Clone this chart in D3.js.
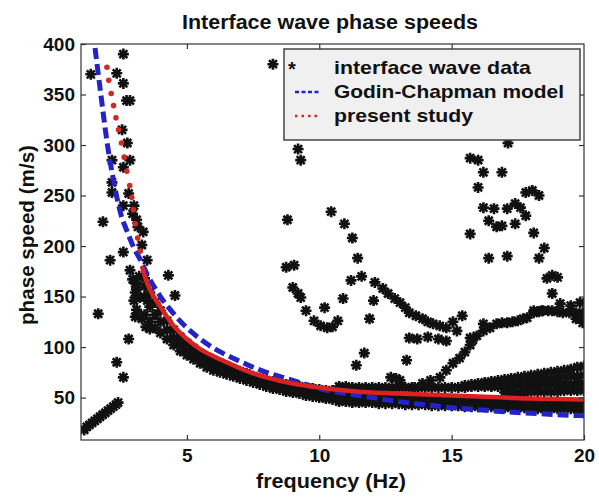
<!DOCTYPE html>
<html>
<head>
<meta charset="utf-8">
<script src="https://cdn.jsdelivr.net/npm/d3@7"></script>
<style>
  body { margin: 0; background: #fff; }
  text { font-family: "Liberation Sans", Arial, sans-serif; font-weight: bold; fill: #111; }
</style>
</head>
<body>
<svg id="chart"></svg>
<script>
var freqTicks = [5, 10, 15, 20];
var speedTicks = [50, 100, 150, 200, 250, 300, 350, 400];

// model curves
var godinChapman = [[1.53,396],[1.75,350],[2,300],[2.25,262],[2.5,232],[2.75,214],[3,198],[3.25,186],[3.5,172],
  [4,150],[4.5,133],[5,119],[5.5,108],[6,99],[6.5,92],[7,86],[7.5,80],[8,75],[8.5,71],[9,67],[9.5,63],
  [10,59],[11,54],[12,50],[13,46],[14,43],[15,40],[16,38],[17,36],[18,34.5],[19,33],[20,32]];
var presentDots = [[1.98,377],[2.05,364],[2.14,351],[2.23,339],[2.32,327],[2.42,315],[2.53,302],[2.63,288],
  [2.73,274],[2.84,260],[2.92,248],[2.98,236],[3.05,222],[3.14,208],[3.24,195]];
var presentCurve = [[3.3,180],[3.5,163],[3.75,150],[4,140],[4.5,121],[5,108],[5.5,98],[6,91],[6.5,85],[7,79],
  [7.5,74],[8,70],[9,64],[10,60],[11,57],[12,55],[13,54],[14,53],[15,52],[16,51],[17,50],[18,49],[19,48.5],[20,48]];

// interface wave data
var lowRise = [[1.12,18],[1.22,21],[1.32,23],[1.42,25],[1.52,27],[1.62,29],[1.72,31],[1.82,33],[1.92,35],
  [2.02,37],[2.12,39],[2.22,41],[2.32,43],[2.4,45]];
var earlyScatter = [[1.37,370],[2.35,371],[2.6,390],[2.6,361],[2.72,344],[2.85,344],[2.55,315],[2.75,302],
  [2.17,285],[2.6,278],[2.85,285],[2.17,263],[2.17,253],[2.8,252],[2.6,240],[3.0,240],[2.95,232],[3.1,226],
  [1.83,224],[3.15,219],[3.35,214],[3.3,201],[2.6,194],[2.1,186],[3.5,186],[2.85,176],[3.05,163],[3.05,154],
  [1.65,133],[3.1,137],[3.05,130],[2.8,108],[2.35,85],[2.6,70],[2.95,167],[3.1,159],[3.0,146],[3.23,149],
  [3.5,146],[3.2,170],[3.4,160],[3.3,128],[3.45,120],[3.6,118],[4.3,171],[4.55,151]];
var bandFreqs = [3.4,3.6,3.8,4,4.25,4.5,4.75,5,5.25,5.5,5.75,6,6.25,6.5,6.75,7,7.25,7.5,7.75,8,8.25,8.5,
  8.75,9,9.25,9.5,9.75,10,10.25,10.5];
var bandTop = [168,154,144,136,126,117,110,104,99,94,90,87,84,81,78,76,74,71,69,67,66,64,63,62,61,60,59,58,57,57];
var bandMid = [150,140,132,125,117,109,103,97,93,89,85,81,78,76,73,71,69,67,65,63,61,60,58,57,56,55,54,53,52,51];
var bandLow = [132,125,119,114,108,102,96,92,88,84,80,77,75,73,71,69,67,65,63,61,59,58,56,55,54,52,51,50,49,48];
var strandFreqs = [10.75,11,11.25,11.5,11.75,12,12.25,12.5,12.75,13,13.25,13.5,13.75,14,14.25,14.5,14.75,15,
  15.25,15.5,15.75,16,16.25,16.5,16.75,17,17.25,17.5,17.75,18,18.25,18.5,18.75,19,19.25,19.5,19.75,20];
var strandUpper = [61,61,60,60,60,60,60,60,60,60,60,60,60,60,60,60,60,60,60,60,
  61,61,61,61,61,61,61,62,62,62,62,63,63,63,63,63,64,64];
var strandMid = [53,52,52,51,51,50,50,50,50,49,49,49,49,48,48,48,48,48,47,47,
  47,47,47,46,46,46,46,46,45,45,45,45,45,44,44,44,44,44];
var strandLow = [46,46,45,45,45,45,44,44,44,44,43,43,43,43,42,42,42,42,42,41,
  41,41,41,41,40,40,40,40,40,40,39,39,39,39,39,39,38,38];
var fanHigh = [62,63,64,65,66,67,68,69,70,71,72,73,74,75,76,77,78,80,81];
var fanMid = [62,63,64,64,65,66,66,67,68,68,69,70,71,71,72];
var fanLow = [55,55,55,55,56,56,56,56,56,57,57,57,57];
var midScatter = [[8.25,380],[9.2,296],[9.3,285],[8.8,226],[8.75,179],[9.05,181],[9.0,159],[9.2,153],[9.3,149],
  [9.5,136],[9.8,126],[10.05,121],[10.3,119],[10.5,120],[10.2,139],[10.7,126],[10.9,148],[11.2,166],
  [11.45,188],[11.25,208],[10.95,222],[10.45,234],[12.05,146],[11.9,128],[11.7,94],[11.4,82],[13.3,87],
  [12.7,70],[12.9,69],[13.05,67]];
var descBranch = [[11.6,170],[12.1,164],[12.4,158],[12.6,153],[12.85,148],[13.05,144],[13.25,139],[13.4,134],
  [13.65,131],[13.9,128],[14.1,125],[14.3,123],[14.55,121],[14.8,119],[15.05,125],[15.4,131]];
var lowerRow = [[13.4,109],[13.7,108],[14.1,110],[14.5,108],[14.8,106],[15.2,116],[15.7,109],[16.2,123]];
var riseBranch = [[13.6,60],[13.9,64],[14.2,67],[14.56,70],[14.8,77],[15.05,84],[15.3,89],[15.5,95],[15.7,102],
  [15.8,107],[15.95,111],[16.2,116],[16.45,119],[16.7,123],[16.9,124],[17.1,124],[17.3,125],[17.5,126],
  [17.7,128],[17.85,129],[18.1,134],[18.3,135],[18.45,136],[18.65,136],[18.8,136],[19.0,135],[19.2,134],
  [19.45,134],[19.7,134],[19.95,134],[19.95,124],[19.7,128]];
var upperRight = [[17.13,302],[15.7,287],[16.0,285],[16.2,273],[16.9,273],[16.0,258],[16.2,238],[16.6,237],
  [17.1,237],[17.4,242],[17.6,238],[16.4,225],[16.7,219],[16.9,220],[17.4,222],[17.8,230],[15.7,212],
  [18.1,213],[17.8,253],[18.05,255],[18.3,250],[18.5,198],[18.3,188],[16.4,188],[17.1,190],[18.6,168],
  [18.8,171],[19.0,169],[18.8,153],[19.1,143],[19.5,141],[19.85,144],[18.1,136],[18.4,136],[19.95,131]];

var W = 599, H = 498;
var plot = {left:81, right:584, top:44, bottom:440};

var svg = d3.select("#chart").attr("width", W).attr("height", H);

var x = d3.scaleLinear().domain([1, 20]).range([plot.left, plot.right]);
var y = d3.scaleLinear().domain([8, 400]).range([plot.bottom, plot.top]);

var pairUp = function(freqs, speeds)
{
    var f = freqs.slice(freqs.length - speeds.length);
    return speeds.map(function(v, i) { return [f[i], v]; });
};

var stars = [].concat(lowRise, earlyScatter,
    pairUp(bandFreqs, bandTop), pairUp(bandFreqs, bandMid), pairUp(bandFreqs, bandLow),
    pairUp(strandFreqs, strandUpper), pairUp(strandFreqs, strandMid), pairUp(strandFreqs, strandLow),
    pairUp(strandFreqs, fanHigh), pairUp(strandFreqs, fanMid), pairUp(strandFreqs, fanLow),
    midScatter, descBranch, lowerRow, riseBranch, upperRight);

svg.append("defs").append("clipPath").attr("id", "clip")
    .append("rect")
    .attr("x", plot.left).attr("y", plot.top)
    .attr("width", plot.right - plot.left).attr("height", plot.bottom - plot.top);

var starPath = "M-5.5,0H5.5M0,-5.5V5.5M-4,-4L4,4M-4,4L4,-4";

var g = svg.append("g").attr("clip-path", "url(#clip)");

g.selectAll("path.star")
    .data(stars)
    .enter()
    .append("path")
    .classed("star", true)
    .attr("d", starPath)
    .attr("transform", function(d) { return "translate(" + x(d[0]) + "," + y(d[1]) + ")"; })
    .attr("stroke", "#111")
    .attr("stroke-width", 2.6)
    .attr("fill", "none");

var line = d3.line()
    .x(function(d) { return x(d[0]); })
    .y(function(d) { return y(d[1]); })
    .curve(d3.curveMonotoneX);

g.append("path")
    .datum(godinChapman)
    .attr("d", line)
    .attr("fill", "none")
    .attr("stroke", "#2323c8")
    .attr("stroke-width", 5)
    .attr("stroke-dasharray", "11,5");

g.append("path")
    .datum(presentCurve)
    .attr("d", line)
    .attr("fill", "none")
    .attr("stroke", "#dd2020")
    .attr("stroke-width", 4.5);

g.selectAll("circle.dot")
    .data(presentDots)
    .enter()
    .append("circle")
    .classed("dot", true)
    .attr("cx", function(d) { return x(d[0]); })
    .attr("cy", function(d) { return y(d[1]); })
    .attr("r", 2.8)
    .attr("fill", "#d02828");

// frame and axes
svg.append("rect")
    .attr("x", plot.left).attr("y", plot.top)
    .attr("width", plot.right - plot.left).attr("height", plot.bottom - plot.top)
    .attr("fill", "none")
    .attr("stroke", "#333")
    .attr("stroke-width", 1.2);

var xAxis = svg.append("g")
    .attr("transform", "translate(0," + plot.bottom + ")")
    .call(d3.axisBottom(x).tickValues(freqTicks).tickSize(-5).tickSizeOuter(0).tickPadding(9));
var xTop = svg.append("g")
    .attr("transform", "translate(0," + plot.top + ")")
    .call(d3.axisTop(x).tickValues(freqTicks.slice(0, 3)).tickSize(-5).tickSizeOuter(0).tickFormat(""));
var yAxis = svg.append("g")
    .attr("transform", "translate(" + plot.left + ",0)")
    .call(d3.axisLeft(y).tickValues(speedTicks).tickSize(-5).tickSizeOuter(0).tickPadding(6));
var yRight = svg.append("g")
    .attr("transform", "translate(" + plot.right + ",0)")
    .call(d3.axisRight(y).tickValues(speedTicks.slice(0, 7)).tickSize(-5).tickSizeOuter(0).tickFormat(""));

[xAxis, xTop, yAxis, yRight].forEach(function(a)
{
    a.select(".domain").remove();
    a.selectAll("line").attr("stroke", "#333").attr("stroke-width", 1.2);
    a.selectAll("text").attr("font-size", 19).attr("fill", "#111")
        .attr("font-family", "Liberation Sans, Arial, sans-serif").attr("font-weight", "bold");
});

// labels
svg.append("text")
    .attr("x", 330).attr("y", 29)
    .attr("text-anchor", "middle")
    .attr("font-size", 20)
    .attr("textLength", 296).attr("lengthAdjust", "spacingAndGlyphs")
    .text("Interface wave phase speeds");

svg.append("text")
    .attr("x", 331).attr("y", 488)
    .attr("text-anchor", "middle")
    .attr("font-size", 21)
    .attr("textLength", 150).attr("lengthAdjust", "spacingAndGlyphs")
    .text("frequency (Hz)");

svg.append("text")
    .attr("transform", "translate(34,235) rotate(-90)")
    .attr("text-anchor", "middle")
    .attr("font-size", 20)
    .attr("textLength", 180).attr("lengthAdjust", "spacingAndGlyphs")
    .text("phase speed (m/s)");

// legend
var legend = svg.append("g");
legend.append("rect")
    .attr("x", 284).attr("y", 49).attr("width", 296).attr("height", 91)
    .attr("fill", "#f0f0f0")
    .attr("stroke", "#444")
    .attr("stroke-width", 1.5);
legend.append("text").attr("x", 288).attr("y", 76).attr("font-size", 20).text("*");
legend.append("line")
    .attr("x1", 295).attr("x2", 319).attr("y1", 92).attr("y2", 92)
    .attr("stroke", "#2323c8").attr("stroke-width", 2.5).attr("stroke-dasharray", "4,2.5");
legend.append("line")
    .attr("x1", 295).attr("x2", 319).attr("y1", 116).attr("y2", 116)
    .attr("stroke", "#d02828").attr("stroke-width", 2.5).attr("stroke-dasharray", "2.5,4");
var legendText = [["interface wave data", 74, 197], ["Godin-Chapman model", 98, 230], ["present study", 122, 139]];
legend.selectAll("text.item")
    .data(legendText)
    .enter()
    .append("text")
    .classed("item", true)
    .attr("x", 334)
    .attr("y", function(d) { return d[1]; })
    .attr("font-size", 19)
    .attr("textLength", function(d) { return d[2]; })
    .attr("lengthAdjust", "spacingAndGlyphs")
    .text(function(d) { return d[0]; });
</script>
</body>
</html>
